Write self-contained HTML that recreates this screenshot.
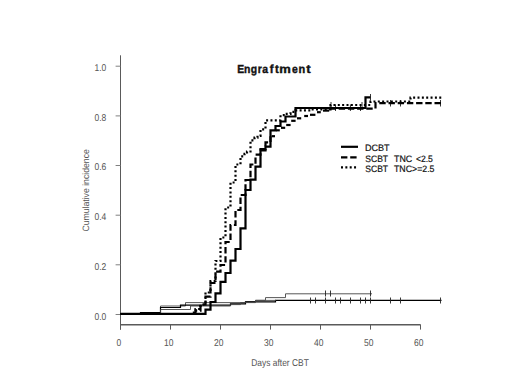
<!DOCTYPE html>
<html><head><meta charset="utf-8"><style>
html,body{margin:0;padding:0;background:#fff;}
body{width:520px;height:390px;overflow:hidden;position:relative;font-family:"Liberation Sans",sans-serif;}
svg{position:absolute;left:0;top:0;}
</style></head><body>
<svg width="520" height="390" viewBox="0 0 520 390" font-family="Liberation Sans, sans-serif">
<rect width="520" height="390" fill="#fff"/>
<g stroke="#5a5a5a" stroke-width="1" fill="none">
<path d="M120.5,55.3V329.6"/>
<path d="M120.5,324.8H420.5" stroke-width="1.6"/>
<path d="M115.6,314.5H120.5" stroke="#808080"/>
<path d="M115.6,264.8H120.5" stroke="#808080"/>
<path d="M115.6,215.2H120.5" stroke="#808080"/>
<path d="M115.6,165.5H120.5" stroke="#808080"/>
<path d="M115.6,115.9H120.5" stroke="#808080"/>
<path d="M115.6,66.2H120.5" stroke="#808080"/>
<path d="M120.5,324.5V329.6"/>
<path d="M170.5,324.5V329.6"/>
<path d="M220.5,324.5V329.6"/>
<path d="M270.5,324.5V329.6"/>
<path d="M320.5,324.5V329.6"/>
<path d="M370.5,324.5V329.6"/>
<path d="M420.5,324.5V329.6"/>
</g>
<g font-size="9.9" fill="#555" text-rendering="geometricPrecision">
<text transform="translate(106.3,319.75) scale(0.86,1)" text-anchor="end">0.0</text>
<text transform="translate(106.3,269.97) scale(0.86,1)" text-anchor="end">0.2</text>
<text transform="translate(106.3,220.19) scale(0.86,1)" text-anchor="end">0.4</text>
<text transform="translate(106.3,170.41) scale(0.86,1)" text-anchor="end">0.6</text>
<text transform="translate(106.3,120.63) scale(0.86,1)" text-anchor="end">0.8</text>
<text transform="translate(106.3,70.85) scale(0.86,1)" text-anchor="end">1.0</text>
<text transform="translate(118.8,346.3) scale(0.86,1)" text-anchor="middle">0</text>
<text transform="translate(168.8,346.3) scale(0.86,1)" text-anchor="middle">10</text>
<text transform="translate(218.8,346.3) scale(0.86,1)" text-anchor="middle">20</text>
<text transform="translate(268.8,346.3) scale(0.86,1)" text-anchor="middle">30</text>
<text transform="translate(318.8,346.3) scale(0.86,1)" text-anchor="middle">40</text>
<text transform="translate(368.8,346.3) scale(0.86,1)" text-anchor="middle">50</text>
<text transform="translate(418.8,346.3) scale(0.86,1)" text-anchor="middle">60</text>
<text x="251.3" y="366.2" textLength="57.5" lengthAdjust="spacingAndGlyphs">Days after CBT</text>
<text transform="translate(89.2,231.6) rotate(-90)" font-size="9.2" textLength="82.4" lengthAdjust="spacingAndGlyphs">Cumulative incidence</text>
</g>
<g font-size="11.8" font-weight="bold" fill="#111" stroke="#111" stroke-width="0.4" text-rendering="geometricPrecision">
<text transform="translate(237.36,72.7) scale(0.880,1)">E</text>
<text transform="translate(243.97,72.7) scale(0.880,1)">n</text>
<text transform="translate(250.72,72.7) scale(0.880,1)">g</text>
<text transform="translate(257.77,72.7) scale(0.880,1)">r</text>
<text transform="translate(262.35,72.7) scale(0.880,1)">a</text>
<text transform="translate(269.76,72.7) scale(0.960,1)">f</text>
<text transform="translate(275.01,72.7) scale(0.961,1)">t</text>
<text transform="translate(279.29,72.7) scale(1.102,1)">m</text>
<text transform="translate(292.05,72.7) scale(0.880,1)">e</text>
<text transform="translate(298.43,72.7) scale(0.930,1)">n</text>
<text transform="translate(306.29,72.7) scale(1.120,1)">t</text>
</g>
<g fill="none" stroke="#444" stroke-width="0.9">
<path d="M120.5,314.0H160.5V306.0H185.5V302.6H245.5V301.8H255.5V300.3H265.5V297.6H285.5V293.8H372.0"/>
<path d="M120.5,314.0H140.5V312.6H160.5V307.5H180.5V305.2H230.5V303.8H245.5V301.8H275.5V300.4H441.5" stroke="#000" stroke-width="1.2"/>
<path d="M120.5,314.0H160.5V309.5H190.5V306.0H230.5V304.6H240.5V302.6H255.5V300.4H276.0"/>
</g>
<g fill="none" stroke="#222" stroke-width="0.9">
<path d="M325.5,290.5V296.5"/>
<path d="M330.5,290.5V296.5"/>
<path d="M370.5,290.5V296.5"/>
<path d="M310.5,297.5V303.5"/>
<path d="M315.5,297.5V303.5"/>
<path d="M325.5,297.5V303.5"/>
<path d="M335.5,297.5V303.5"/>
<path d="M340.5,297.5V303.5"/>
<path d="M350.5,297.5V303.5"/>
<path d="M360.5,297.5V303.5"/>
<path d="M365.5,297.5V303.5"/>
<path d="M370.5,297.5V303.5"/>
<path d="M390.5,297.5V303.5"/>
<path d="M400.5,297.5V303.5"/>
<path d="M440.5,297.5V303.5"/>
<path d="M335.5,104.5V111"/>
<path d="M350.4,104.5V111"/>
<path d="M360.5,104.5V111"/>
<path d="M331,102V108"/>
<path d="M362,102V108"/>
<path d="M390.5,100V106.5"/>
<path d="M400.5,100V106.5"/>
<path d="M440.5,100V106.5"/>
<path d="M370.5,94V100.5"/>
</g>
<g fill="none" stroke="#000" stroke-width="2.2">
<path d="M120.5,313.8H205.5V309.7H210.5V302.0H215.5V293.4H220.5V281.8H225.5V273.0H230.5V260.6H235.5V249.0H240.5V228.4H245.5V190.0H250.5V179.6H255.5V166.6H260.5V150.3H265.5V146.6H270.5V130.3H275.5V126.0H280.5V121.5H285.5V116.5H295.5V108.0H365.5V97.3H370.5"/>
<path d="M120.5,314.0H190.5V312.7H195.5V310.7H200.5V304.5H205.5V296.6H210.5V283.0H215.5V271.6H220.5V265.0H225.5V242.0H230.5V225.0H235.5V210.0H240.5V195.0H245.5V180.0H250.5V164.5H255.5V154.7H260.5V149.2H265.5V142.4H270.5V136.2H270.5" stroke-dasharray="6.4,2.8"/>
<path d="M271.6,136.2H275"/>
<path d="M276,130.3H279.8"/>
<path d="M281,127.8H285.2"/>
<path d="M286.2,125H290.6"/>
<path d="M291.2,120.8H295.6"/>
<path d="M297,118.3H301.2"/>
<path d="M304.2,116H308"/>
<path d="M310,114.8H315.4"/>
<path d="M317,112.2H320.8"/>
<path d="M323,110.6H329.2"/>
<path d="M329.5,108.6H375.5V103.2H442.0" stroke-dasharray="6.4,2.8"/>
<path d="M120.5,314.0H195.5V309.0H200.5V304.5H205.5V292.5H210.5V281.0H215.5V261.0H220.5V237.5H225.5V207.5H230.5V182.5H235.5V164.5H240.5V156.3H244.5V153.8H247.0V151.5H250.5V140.4H254.5V137.6H257.5V135.8H260.5V129.4H265.5V120.3H280.5V115.2H285.5V113.8H290.5V111.8H295.5V110.3H310.5V109.3H330.5V105.0H370.5V101.5H410.5V97.7H442.0" stroke-dasharray="2,2.35"/>
</g>
<g fill="none" stroke="#000" stroke-width="2.2">
<path d="M341,146.8H358"/>
<path d="M341,157.3H358" stroke-dasharray="6.4,2.8"/>
<path d="M341,167.3H358" stroke-dasharray="2,2.35"/>
</g>
<g font-size="9.3" fill="#111" stroke="#111" stroke-width="0.2" text-rendering="geometricPrecision" lengthAdjust="spacingAndGlyphs">
<text x="365.0" y="151.3" textLength="24.6" lengthAdjust="spacingAndGlyphs">DCBT</text>
<text x="365.3" y="161.8" textLength="22.8" lengthAdjust="spacingAndGlyphs">SCBT</text>
<text x="394.0" y="161.8" textLength="18.2" lengthAdjust="spacingAndGlyphs">TNC</text>
<text x="415.9" y="161.8" textLength="17.0" lengthAdjust="spacingAndGlyphs">&lt;2.5</text>
<text x="365.3" y="172.2" textLength="22.8" lengthAdjust="spacingAndGlyphs">SCBT</text>
<text x="394.0" y="172.2" textLength="40.5" lengthAdjust="spacingAndGlyphs">TNC&gt;=2.5</text>
</g>
</svg>
</body></html>
